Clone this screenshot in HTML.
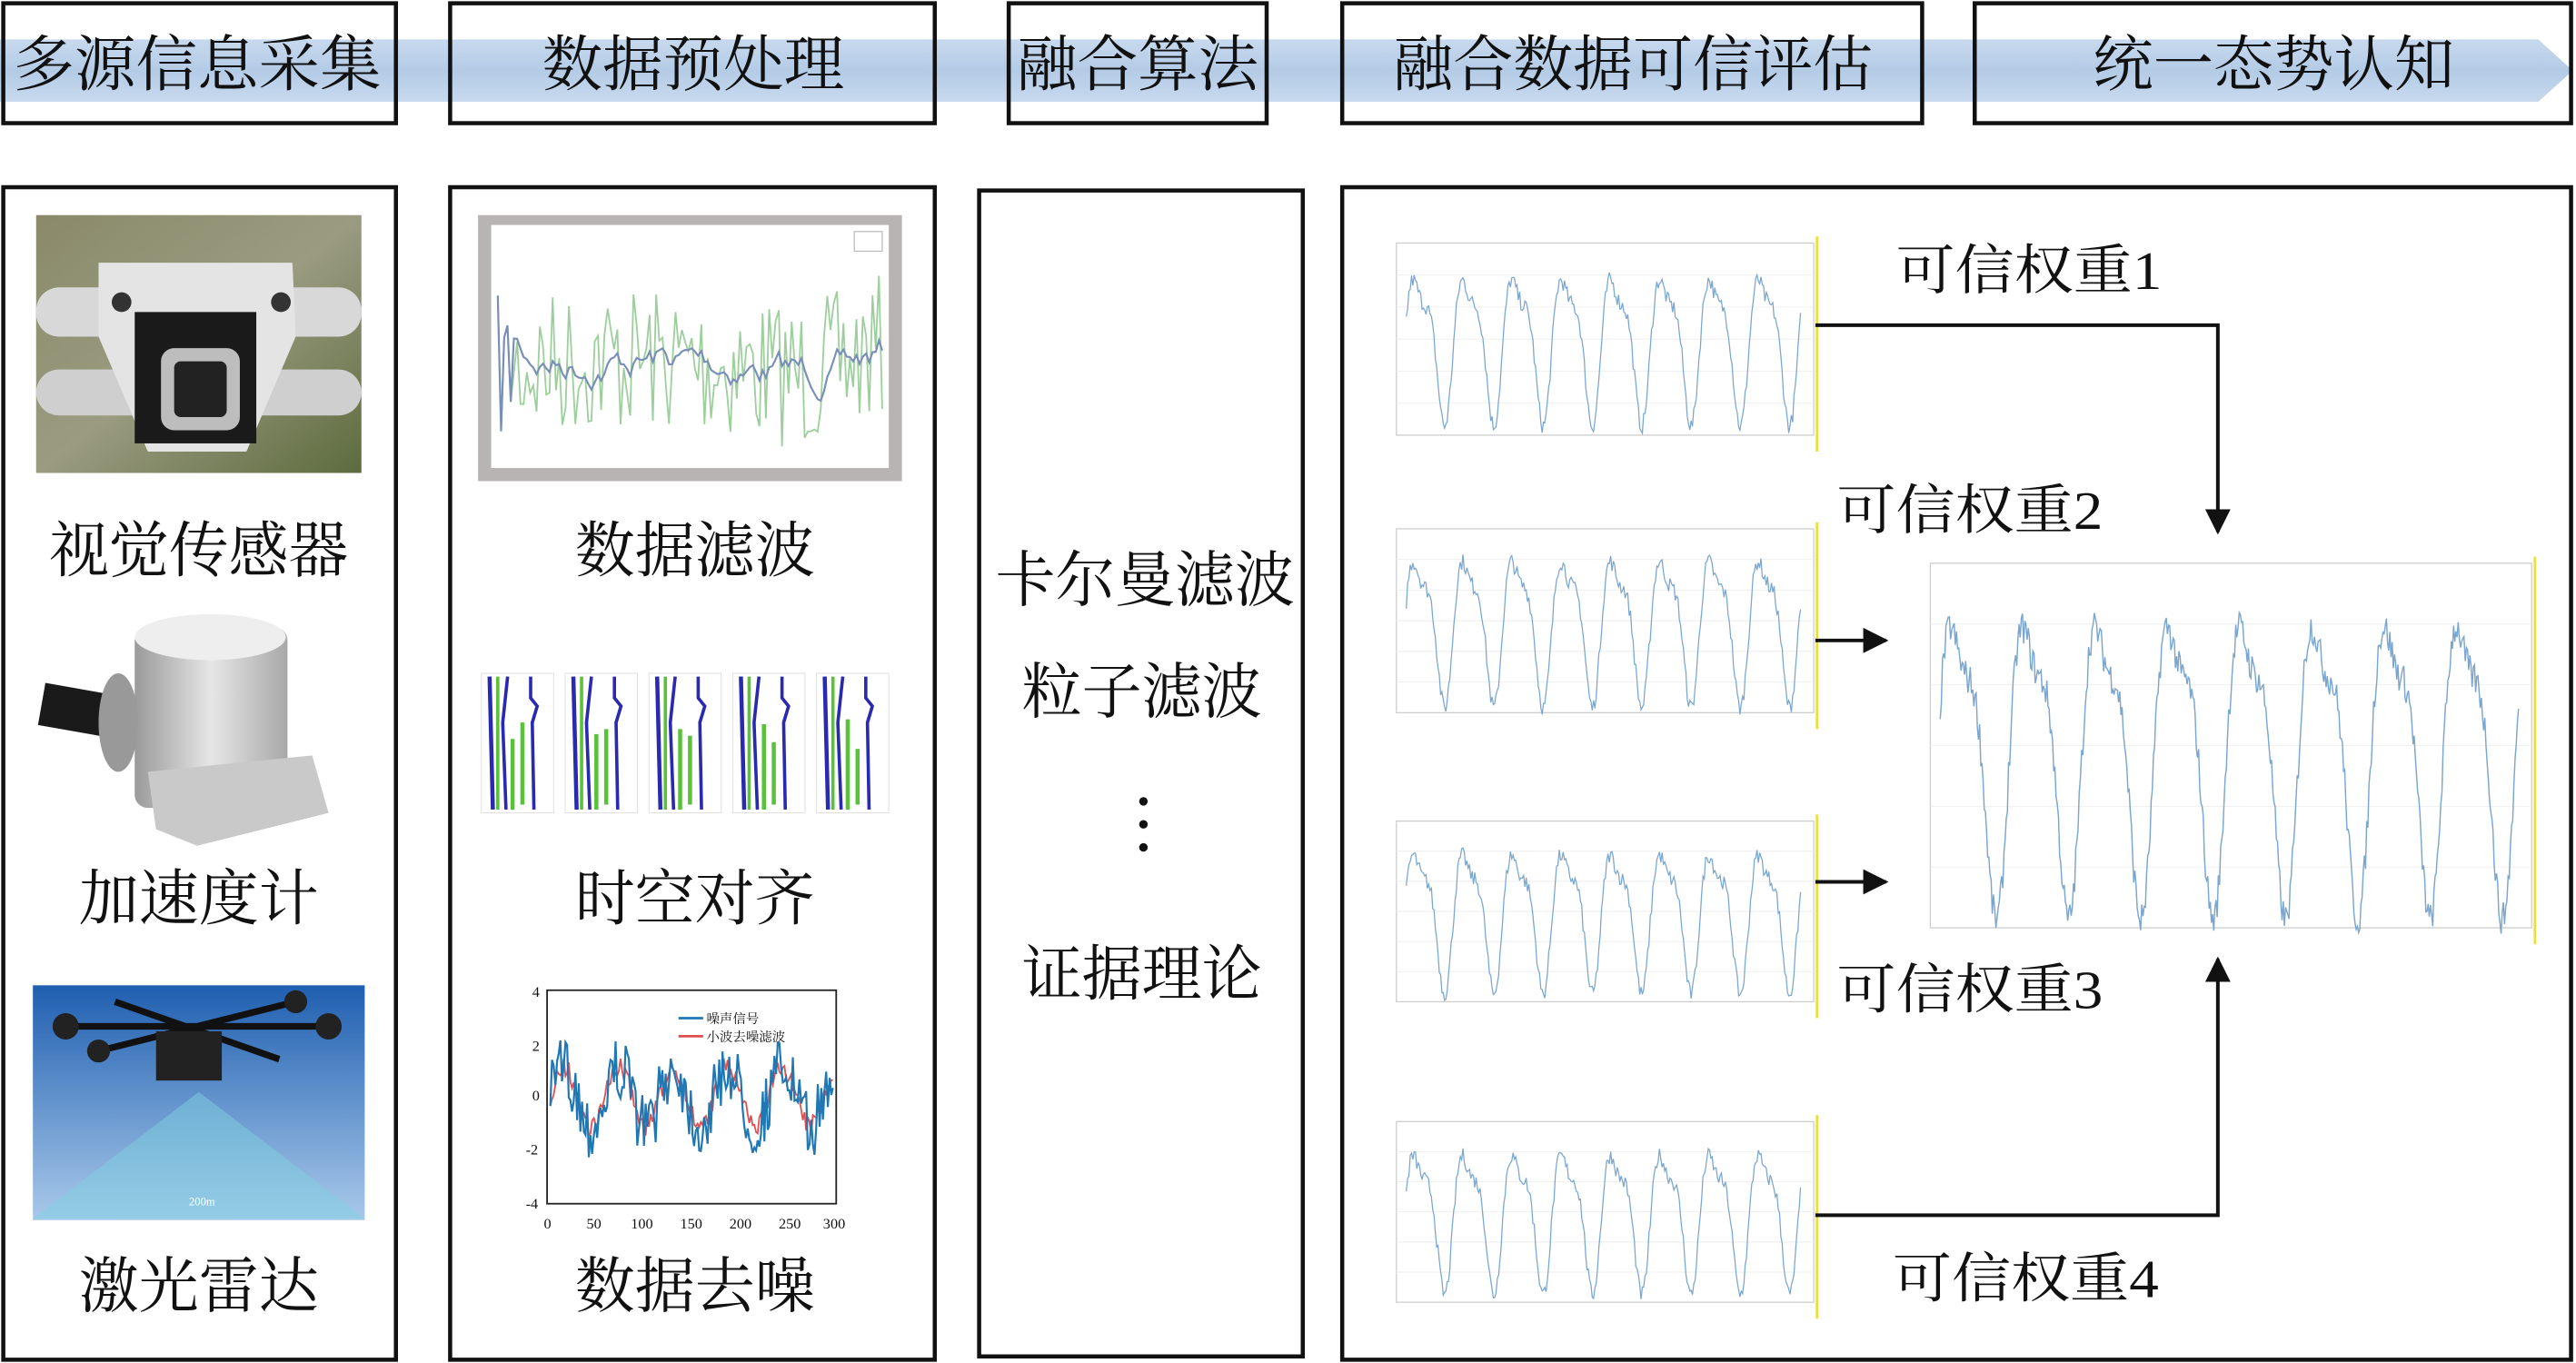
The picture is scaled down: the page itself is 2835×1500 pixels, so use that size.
<!DOCTYPE html>
<html><head><meta charset="utf-8"><style>
html,body{margin:0;padding:0;background:#fff;}
svg{display:block;}
text{font-family:"Liberation Serif","Noto Serif CJK SC",serif;fill:#111;}
</style></head><body>
<svg id="s" width="2835" height="1500" viewBox="0 0 1568 830" preserveAspectRatio="none" xmlns="http://www.w3.org/2000/svg">
<defs>
<linearGradient id="band" x1="0" x2="0" y1="0" y2="1"><stop offset="0" stop-color="#c7d9ee"/><stop offset="0.5" stop-color="#b4cbe6"/><stop offset="1" stop-color="#c7d9ee"/></linearGradient>
<linearGradient id="bg1" x1="0" x2="1" y1="0" y2="1"><stop offset="0" stop-color="#8a8a6a"/><stop offset="0.5" stop-color="#9a9b80"/><stop offset="1" stop-color="#5d6b3e"/></linearGradient>
<linearGradient id="sky" x1="0" x2="0" y1="0" y2="1"><stop offset="0" stop-color="#1f5fb0"/><stop offset="1" stop-color="#a9c9ea"/></linearGradient>
<linearGradient id="metal" x1="0" x2="1"><stop offset="0" stop-color="#9a9a9a"/><stop offset="0.5" stop-color="#e6e6e6"/><stop offset="1" stop-color="#a8a8a8"/></linearGradient>
<marker id="ah" viewBox="0 0 10 10" refX="9" refY="5" markerWidth="7" markerHeight="7" orient="auto"><path d="M0,0 L10,5 L0,10 z" fill="#111"/></marker>
</defs>
<polygon points="0,24 1545,24 1566,43 1545,62 0,62" fill="url(#band)"/>
<g fill="none" stroke="#111" stroke-width="2.5">
<rect x="2" y="2" width="239" height="73"/>
<rect x="274" y="2" width="295" height="73"/>
<rect x="614" y="2" width="157" height="73"/>
<rect x="817" y="2" width="353" height="73"/>
<rect x="1202" y="2" width="363" height="73"/>
<rect x="2" y="114" width="239" height="714"/>
<rect x="274" y="114" width="295" height="714"/>
<rect x="596" y="116" width="197" height="710"/>
<rect x="817" y="114" width="748" height="714"/>
</g>
<g font-size="37">
<text x="8" y="52" textLength="224" lengthAdjust="spacingAndGlyphs">多源信息采集</text>
<text x="330" y="52" textLength="184" lengthAdjust="spacingAndGlyphs">数据预处理</text>
<text x="619" y="52" textLength="147" lengthAdjust="spacingAndGlyphs">融合算法</text>
<text x="848" y="52" textLength="292" lengthAdjust="spacingAndGlyphs">融合数据可信评估</text>
<text x="1274" y="52" textLength="220" lengthAdjust="spacingAndGlyphs">统一态势认知</text>
<text x="30" y="348" textLength="182" lengthAdjust="spacingAndGlyphs">视觉传感器</text>
<text x="48" y="560" textLength="146" lengthAdjust="spacingAndGlyphs">加速度计</text>
<text x="48" y="796" textLength="146" lengthAdjust="spacingAndGlyphs">激光雷达</text>
<text x="350" y="348" textLength="146" lengthAdjust="spacingAndGlyphs">数据滤波</text>
<text x="350" y="560" textLength="146" lengthAdjust="spacingAndGlyphs">时空对齐</text>
<text x="350" y="796" textLength="146" lengthAdjust="spacingAndGlyphs">数据去噪</text>
<text x="606" y="366" textLength="182" lengthAdjust="spacingAndGlyphs">卡尔曼滤波</text>
<text x="622" y="434" textLength="146" lengthAdjust="spacingAndGlyphs">粒子滤波</text>
<text x="622" y="606" textLength="146" lengthAdjust="spacingAndGlyphs">证据理论</text>
</g>
<g fill="#111"><circle cx="696" cy="488" r="2.6"/><circle cx="696" cy="502" r="2.6"/><circle cx="696" cy="516" r="2.6"/></g>
<g font-size="33">
<text x="1154" y="176" textLength="162" lengthAdjust="spacingAndGlyphs">可信权重1</text>
<text x="1118" y="322" textLength="162" lengthAdjust="spacingAndGlyphs">可信权重2</text>
<text x="1118" y="614" textLength="162" lengthAdjust="spacingAndGlyphs">可信权重3</text>
<text x="1152" y="790" textLength="162" lengthAdjust="spacingAndGlyphs">可信权重4</text>
</g>
<rect x="22" y="131" width="198" height="157" fill="url(#bg1)"/>
<rect x="22" y="175" width="198" height="30" rx="14" fill="#d8d8d8"/>
<rect x="22" y="225" width="198" height="28" rx="14" fill="#cfcfcf"/>
<path d="M60,160 L178,160 L180,205 L165,240 L150,275 L90,275 L75,240 L60,205z" fill="#e4e4e4"/>
<rect x="82" y="190" width="74" height="80" fill="#1a1a1a"/>
<rect x="98" y="212" width="48" height="50" rx="8" fill="#bdbdbd"/>
<rect x="106" y="220" width="32" height="34" rx="4" fill="#222"/>
<circle cx="74" cy="184" r="6" fill="#333"/><circle cx="171" cy="184" r="6" fill="#333"/>
<rect x="82" y="382" width="93" height="110" rx="8" fill="url(#metal)"/>
<ellipse cx="128" cy="388" rx="46" ry="14" fill="#eee"/>
<polygon points="90,470 190,460 200,495 120,515 95,505" fill="#c9c9c9"/>
<rect x="25" y="420" width="50" height="26" fill="#1a1a1a" transform="rotate(10 50 433)"/>
<ellipse cx="72" cy="440" rx="12" ry="30" fill="#999"/>
<rect x="20" y="600" width="202" height="143" fill="url(#sky)"/>
<polygon points="121,665 20,742 222,742" fill="#7fd0e0" opacity="0.5"/>
<path d="M40,625 L200,625 M60,640 L180,610 M70,610 L170,645" stroke="#111" stroke-width="4"/>
<rect x="95" y="628" width="40" height="30" fill="#222"/>
<circle cx="40" cy="625" r="8" fill="#222"/><circle cx="200" cy="625" r="8" fill="#222"/><circle cx="180" cy="610" r="7" fill="#222"/><circle cx="60" cy="640" r="7" fill="#222"/>
<text x="115" y="734" font-size="7" style="fill:#fff">200m</text>
<rect x="291" y="131" width="258" height="162" fill="#b9b4b4"/>
<rect x="299" y="137" width="242" height="148" fill="#fff"/>
<rect x="520" y="141" width="17" height="12" fill="none" stroke="#bbb" stroke-width="0.7"/>
<g id="filt"></g>
<g id="lanes"></g>
<rect x="333" y="603" width="176" height="130" fill="#fff" stroke="#222" stroke-width="1"/>
<g id="noise"></g>
<g font-size="9" style="font-family:'Liberation Serif',serif">
<text x="324" y="607">4</text><text x="324" y="640">2</text><text x="324" y="670">0</text><text x="320" y="703">-2</text><text x="320" y="736">-4</text>
<text x="331" y="748">0</text><text x="357" y="748">50</text><text x="384" y="748">100</text><text x="414" y="748">150</text><text x="444" y="748">200</text><text x="474" y="748">250</text><text x="501" y="748">300</text>
<text x="430" y="623" font-size="8">噪声信号</text><text x="430" y="634" font-size="8">小波去噪滤波</text>
</g>
<line x1="413" y1="620" x2="428" y2="620" stroke="#1f77b4" stroke-width="1.5"/>
<line x1="413" y1="631" x2="428" y2="631" stroke="#e05050" stroke-width="1.5"/>
<g id="sc"></g>
<g stroke="#111" stroke-width="2.2" fill="none">
<polyline points="1105,198 1350,198 1350,324" marker-end="url(#ah)"/>
<line x1="1105" y1="390" x2="1148" y2="390" marker-end="url(#ah)"/>
<line x1="1105" y1="537" x2="1148" y2="537" marker-end="url(#ah)"/>
<polyline points="1105,740 1350,740 1350,584" marker-end="url(#ah)"/>
</g>
</svg>
<script>
var NS="http://www.w3.org/2000/svg";
function el(p,t,a){var e=document.createElementNS(NS,t);for(var k in a)e.setAttribute(k,a[k]);p.appendChild(e);return e;}
var seed=7;function rnd(){seed=(seed*16807)%2147483647;return seed/2147483647;}
(function(){var g=document.getElementById('filt');var n=120,p="",q="",sm=0;
for(var i=0;i<n;i++){var x=303+i*234/(n-1);var base=-6*Math.sin(i/25)+ (i>95?-(i-95)*0.8:0);
var y=225+base+(rnd()-0.5)*90;p+=(i?"L":"M")+x.toFixed(1)+","+y.toFixed(1);
sm=sm*0.85+(y)*0.15;if(i==0)sm=y;q+=(i?"L":"M")+x.toFixed(1)+","+(i<5?y:sm).toFixed(1);}
el(g,'path',{d:p,fill:'none',stroke:'#9ccf9c','stroke-width':1});
el(g,'path',{d:q,fill:'none',stroke:'#7a8fb8','stroke-width':1.2});})();
(function(){var g=document.getElementById('lanes');
for(var k=0;k<5;k++){var x0=293+k*51;
el(g,'rect',{x:x0,y:410,width:44,height:85,fill:'#fff',stroke:'#ddd','stroke-width':0.5});
el(g,'line',{x1:x0+5,y1:412,x2:x0+7,y2:493,stroke:'#2a2ab0','stroke-width':2.5});
el(g,'line',{x1:x0+10,y1:412,x2:x0+10,y2:493,stroke:'#5ac23a','stroke-width':2});
el(g,'path',{d:'M'+(x0+16)+',412 L'+(x0+13)+',440 L'+(x0+15)+',493',fill:'none',stroke:'#2a2ab0','stroke-width':2});
el(g,'line',{x1:x0+19,y1:450-k*3,x2:x0+19,y2:493,stroke:'#5ac23a','stroke-width':2.5});
el(g,'line',{x1:x0+25,y1:440+k*4,x2:x0+25,y2:490,stroke:'#5ac23a','stroke-width':2.5});
el(g,'path',{d:'M'+(x0+30)+',412 L'+(x0+30)+',425 L'+(x0+34)+',430 L'+(x0+31)+',440 L'+(x0+32)+',493',fill:'none',stroke:'#2a2ab0','stroke-width':2});}})();
(function(){var g=document.getElementById('noise');var p="",q="";
for(var i=0;i<170;i++){var x=335+i*172/169;var s=Math.sin(i/5.2)*18;var y=668-s+(rnd()-0.5)*40;
p+=(i?"L":"M")+x.toFixed(1)+","+y.toFixed(1);q+=(i?"L":"M")+x.toFixed(1)+","+(668-s+(rnd()-0.5)*12).toFixed(1);}
el(g,'path',{d:q,fill:'none',stroke:'#e05050','stroke-width':1});
el(g,'path',{d:p,fill:'none',stroke:'#1f77b4','stroke-width':1.2});})();
function chart(x,y,w,h,per,amp,lw,big){var g=document.getElementById('sc');
el(g,'rect',{x:x,y:y,width:w,height:h,fill:'#fff',stroke:'#ccc','stroke-width':0.7});
for(var i=1;i<6;i++)el(g,'line',{x1:x,y1:y+h*i/6,x2:x+w,y2:y+h*i/6,stroke:'#eee','stroke-width':0.5});
var p="",n=big?500:300;
for(var i=0;i<n;i++){var t=i/(n-1);var ph=t*per*2*Math.PI;var v=Math.sin(ph)+0.35*Math.sin(2*ph+1)+(rnd()-0.5)*0.25;
var xx=x+6+t*(w-14);var yy=y+h/2-v*amp;p+=(i?"L":"M")+xx.toFixed(1)+","+yy.toFixed(1);}
el(g,'path',{d:p,fill:'none',stroke:'#7aa6d0','stroke-width':lw});
el(g,'line',{x1:x+w+2,y1:y-4,x2:x+w+2,y2:y+h+10,stroke:'#e8e040','stroke-width':1.5});}
chart(850,148,254,117,8,40,0.7);
chart(850,322,254,112,8,40,0.7);
chart(850,500,254,110,8,38,0.7);
chart(850,683,254,110,8,38,0.7);
chart(1175,343,366,222,8,80,0.8,true);
</script>
</body></html>
